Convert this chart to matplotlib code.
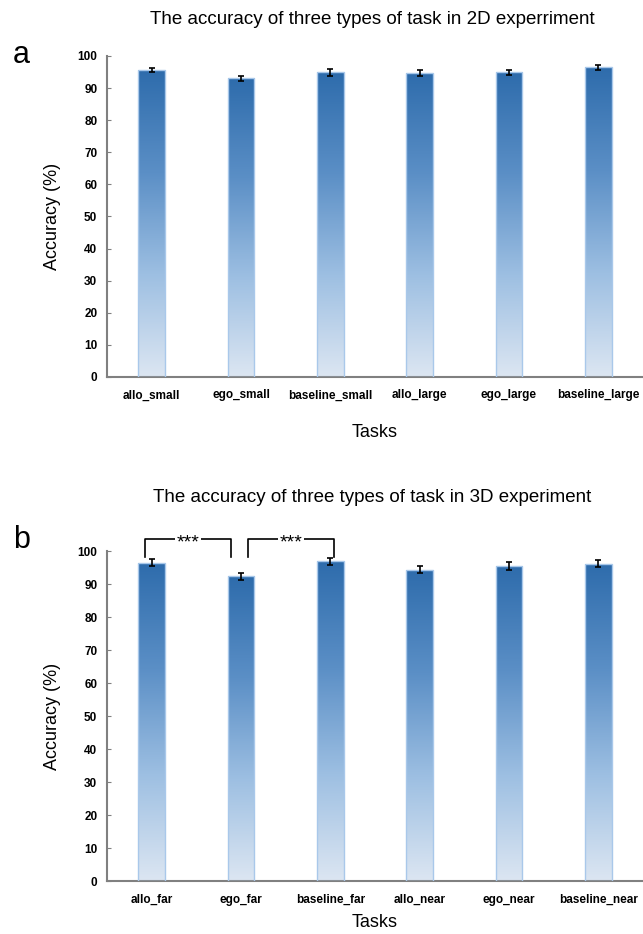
import numpy as np
import matplotlib
matplotlib.use("Agg")
import matplotlib.pyplot as plt
from matplotlib.colors import LinearSegmentedColormap

plt.rcParams['font.family'] = ['Liberation Sans', 'DejaVu Sans']

# Panel a: 2D experiment
tasks_2d = ["allo_small", "ego_small", "baseline_small", "allo_large", "ego_large", "baseline_large"]
acc_2d = [95.6, 93.0, 94.9, 94.7, 94.9, 96.5]
err_2d = [0.7, 0.9, 1.1, 1.0, 0.7, 0.8]

# Panel b: 3D experiment
tasks_3d = ["allo_far", "ego_far", "baseline_far", "allo_near", "ego_near", "baseline_near"]
acc_3d = [96.5, 92.3, 96.9, 94.4, 95.5, 96.2]
err_3d = [1.1, 1.1, 1.05, 1.1, 1.15, 1.1]

# significance brackets (left x, right x, label)
sig_3d = [(-0.07, 0.89, "***"), (1.08, 2.04, "***")]

yticks = np.arange(0, 101, 10)

cmap = LinearSegmentedColormap.from_list("blu", ["#DCE6F2", "#9DBFE2", "#5B8FC6", "#2E6CAC"])
grad = np.linspace(1, 0, 256).reshape(-1, 1)

fig = plt.figure(figsize=(6.43, 9.34), dpi=100)


def draw_panel(ax, tasks, acc, err, xpad):
    x = np.arange(len(tasks))
    bars = ax.bar(x, acc, width=0.3, color="none", edgecolor="#A9C8EA", linewidth=1.0, zorder=3)
    for b in bars:
        x0, w, h = b.get_x(), b.get_width(), b.get_height()
        im = ax.imshow(grad, extent=[x0, x0 + w, 0, h], aspect="auto", cmap=cmap, zorder=2)
        im.set_clip_path(b)
    ax.errorbar(x, acc, yerr=err, fmt="none", ecolor="black", elinewidth=1.2, capsize=2.5, capthick=1.2, zorder=4)
    ax.set_xlim(-0.5, 5.5)
    ax.set_ylim(0, 100)
    ax.set_yticks(yticks)
    ax.set_xticks(x)
    ax.set_xticklabels(tasks, fontsize=8.5, fontweight="bold")
    for t in ax.get_yticklabels():
        t.set_fontsize(8.5)
        t.set_fontweight("bold")
    ax.tick_params(axis="y", direction="in", length=3, color="#808080", pad=7)
    ax.tick_params(axis="x", length=0, pad=9)
    for s in ["top", "right"]:
        ax.spines[s].set_visible(False)
    for s in ["left", "bottom"]:
        ax.spines[s].set_color("#808080")
        ax.spines[s].set_linewidth(1.5)
    ax.set_ylabel("Accuracy (%)", fontsize=13, labelpad=12)
    ax.set_xlabel("Tasks", fontsize=13, labelpad=xpad)


ax1 = fig.add_axes([0.1664, 0.5964, 0.8336, 0.3437])
draw_panel(ax1, tasks_2d, acc_2d, err_2d, 16)

ax2 = fig.add_axes([0.1664, 0.0567, 0.8336, 0.3533])
draw_panel(ax2, tasks_3d, acc_3d, err_3d, 6)

for xl, xr, lab in sig_3d:
    ax2.plot([xl, xl, xr, xr], [98.2, 103.6, 103.6, 98.2], color="black", lw=1.2, clip_on=False, zorder=5)
    ax2.text((xl + xr) / 2, 102.6, lab, ha="center", va="center", fontsize=14,
             clip_on=False, zorder=6,
             bbox=dict(facecolor="white", edgecolor="none", pad=1))

fig.text(0.579, 1 - 20 / 934, "The accuracy of three types of task in 2D experriment", ha="center", va="center", fontsize=13.5)
fig.text(0.579, 1 - 498 / 934, "The accuracy of three types of task in 3D experiment", ha="center", va="center", fontsize=13.5)
fig.text(0.033, 1 - 55 / 934, "a", ha="center", va="center", fontsize=22)
fig.text(0.033, 1 - 540 / 934, "b", ha="center", va="center", fontsize=22)

fig.savefig("out.png", dpi=100)
